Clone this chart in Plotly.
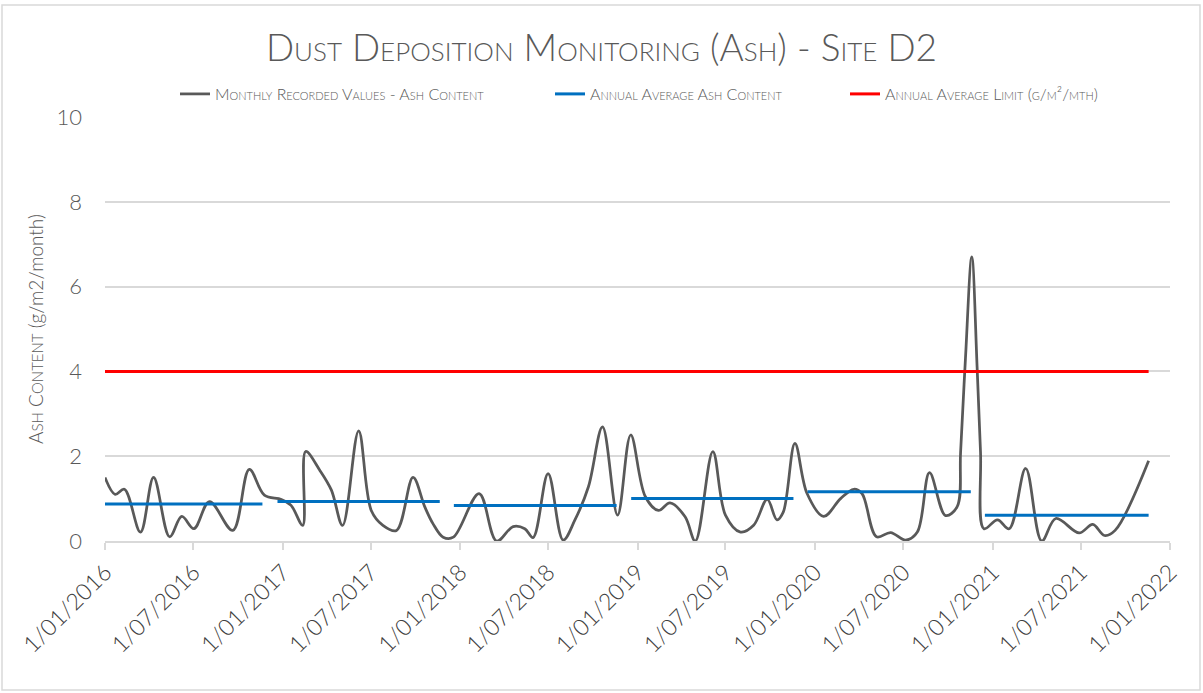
import plotly.graph_objects as go

# ---- data ----
sample_dates = [
    "2016-01-01", "2016-01-22", "2016-02-10", "2016-03-14", "2016-04-10", "2016-05-13",
    "2016-06-07", "2016-07-02", "2016-08-03", "2016-09-20", "2016-10-24", "2016-11-24",
    "2016-12-29", "2017-01-18", "2017-02-11", "2017-02-17", "2017-03-18", "2017-04-11",
    "2017-05-04", "2017-06-06", "2017-07-02", "2017-07-26", "2017-08-23", "2017-09-26",
    "2017-10-20", "2017-11-06", "2017-11-27", "2017-12-18", "2018-02-09", "2018-03-17",
    "2018-04-20", "2018-05-14", "2018-05-31", "2018-07-01", "2018-08-01", "2018-08-25",
    "2018-09-22", "2018-10-21", "2018-11-21", "2018-12-18", "2019-01-17", "2019-02-13",
    "2019-03-09", "2019-04-09", "2019-04-30", "2019-06-05", "2019-07-01", "2019-08-01",
    "2019-08-28", "2019-09-25", "2019-10-15", "2019-10-28", "2019-11-21", "2019-12-16",
    "2020-01-19", "2020-02-23", "2020-03-21", "2020-04-07", "2020-05-07", "2020-06-05",
    "2020-07-06", "2020-07-30", "2020-08-24", "2020-09-26", "2020-10-20", "2020-10-27",
    "2020-11-06", "2020-11-19", "2020-11-30", "2020-12-07", "2020-12-14", "2021-01-11",
    "2021-02-04", "2021-03-10", "2021-04-12", "2021-05-11", "2021-06-28", "2021-07-26",
    "2021-08-19", "2021-09-10", "2021-11-18",
]
ash_content = [
    1.50, 1.10, 1.22, 0.21, 1.50, 0.10,
    0.58, 0.29, 0.93, 0.25, 1.69, 1.08,
    0.98, 0.84, 0.37, 2.11, 1.67, 1.20,
    0.37, 2.60, 0.72, 0.37, 0.25, 1.50,
    0.81, 0.41, 0.09, 0.09, 1.12, 0.00,
    0.34, 0.29, 0.08, 1.59, 0.02, 0.49,
    1.28, 2.69, 0.61, 2.50, 1.05, 0.72,
    0.90, 0.57, 0.00, 2.11, 0.61, 0.21,
    0.37, 0.98, 0.50, 0.68, 2.30, 1.12,
    0.58, 1.00, 1.22, 1.12, 0.10, 0.20,
    0.02, 0.21, 1.61, 0.60, 0.81, 2.10,
    4.30, 6.70, 4.10, 2.10, 0.29, 0.50,
    0.29, 1.71, 0.00, 0.53, 0.19, 0.39,
    0.13, 0.25, 1.89,
]

avg_start = ["2016-01-01", "2016-12-21", "2017-12-19", "2018-12-19", "2019-12-17", "2020-12-16"]
avg_end = ["2016-11-20", "2017-11-20", "2018-11-19", "2019-11-18", "2020-11-17", "2021-11-18"]
avg_values = [0.87, 0.93, 0.84, 1.00, 1.16, 0.61]

limit_dates = ["2016-01-01", "2021-11-18"]
limit_value = 4

tick_dates = [
    "2016-01-01", "2016-07-01", "2017-01-01", "2017-07-01", "2018-01-01", "2018-07-01",
    "2019-01-01", "2019-07-01", "2020-01-01", "2020-07-01", "2021-01-01", "2021-07-01",
    "2022-01-01",
]
tick_labels = [
    "1/01/2016", "1/07/2016", "1/01/2017", "1/07/2017", "1/01/2018", "1/07/2018",
    "1/01/2019", "1/07/2019", "1/01/2020", "1/07/2020", "1/01/2021", "1/07/2021",
    "1/01/2022",
]

# ---- build figure ----
TEXT = "#595959"
FONT = "Lato, Roboto, sans-serif"

avg_x, avg_y = [], []
for s, e, v in zip(avg_start, avg_end, avg_values):
    avg_x += [s, e, None]
    avg_y += [v, v, None]

W, H = 1203, 693
L, R, T, B = 105, 33, 117, 152
pw, ph = W - L - R, H - T - B

fig = go.Figure()
fig.add_trace(go.Scatter(
    x=sample_dates, y=ash_content, mode="lines",
    line=dict(color="#595959", width=2.75, shape="spline", smoothing=1.0),
    name="Monthly Recorded Values - Ash Content", legend="legend",
))
fig.add_trace(go.Scatter(
    x=avg_x, y=avg_y, mode="lines", connectgaps=False,
    line=dict(color="#0070C0", width=3),
    name="Annual Average Ash Content", legend="legend2",
))
fig.add_trace(go.Scatter(
    x=limit_dates, y=[limit_value] * len(limit_dates), mode="lines",
    line=dict(color="#FF0000", width=3),
    name="Annual Average Limit (g/m²/mth)", legend="legend3",
))

legend_font = dict(family=FONT, size=16, color=TEXT, variant="small-caps", weight=300)
def legend_at(px_left):
    return dict(
        orientation="h", x=(px_left - L) / pw, xanchor="left",
        y=1 + (T - 94) / ph, yanchor="middle",
        font=legend_font, bgcolor="rgba(0,0,0,0)", itemwidth=30,
    )

fig.update_layout(
    width=W, height=H,
    margin=dict(l=L, r=R, t=T, b=B, autoexpand=False),
    paper_bgcolor="white", plot_bgcolor="white",
    font=dict(family=FONT, color=TEXT, weight=300),
    title=dict(
        text="Dust Deposition Monitoring (Ash) - Site D2",
        x=0.5, xanchor="center", y=1 - 48 / H, yanchor="middle",
        yref="container", xref="container", automargin=False,
        font=dict(family=FONT, size=37, color=TEXT, variant="small-caps", weight=300),
    ),
    legend=legend_at(175),
    legend2=legend_at(550),
    legend3=legend_at(845),
    showlegend=True,
    xaxis=dict(
        type="date", range=["2016-01-01", "2022-01-01"], automargin=False,
        tickmode="array", tickvals=tick_dates, ticktext=tick_labels,
        tickangle=-45, tickfont=dict(family=FONT, size=23, color="#404040", weight=300),
        showgrid=False, showline=True, linecolor="#D9D9D9", linewidth=1.5,
        ticks="outside", ticklen=7, tickcolor="#D9D9D9", tickwidth=1.5,
        zeroline=False,
    ),
    yaxis=dict(
        range=[0, 10], dtick=2, tick0=0, automargin=False,
        tickfont=dict(family=FONT, size=22, color=TEXT, weight=300),
        showgrid=True, gridcolor="#D9D9D9", gridwidth=1.5,
        zeroline=False, showline=False, ticks="", ticklabelstandoff=22,
        title=dict(
            text="A<span style='font-size:15px'>SH</span> C<span style='font-size:15px'>ONTENT</span> (g/m2/month)",
            font=dict(family=FONT, size=19, color=TEXT, weight=300), standoff=7,
        ),
    ),
    shapes=[dict(
        type="rect", xref="paper", yref="paper",
        x0=(2 - L) / pw, x1=(W - 3 - L) / pw,
        y0=-(H - 3 - T - ph) / ph, y1=1 + (T - 5) / ph,
        line=dict(color="#D9D9D9", width=1.5), fillcolor="rgba(0,0,0,0)", layer="below",
    )],
)

fig.write_html(
    "out.html",
    config={"displayModeBar": False},
    post_script="document.body.style.margin='0';window.dispatchEvent(new Event('resize'));",
)
